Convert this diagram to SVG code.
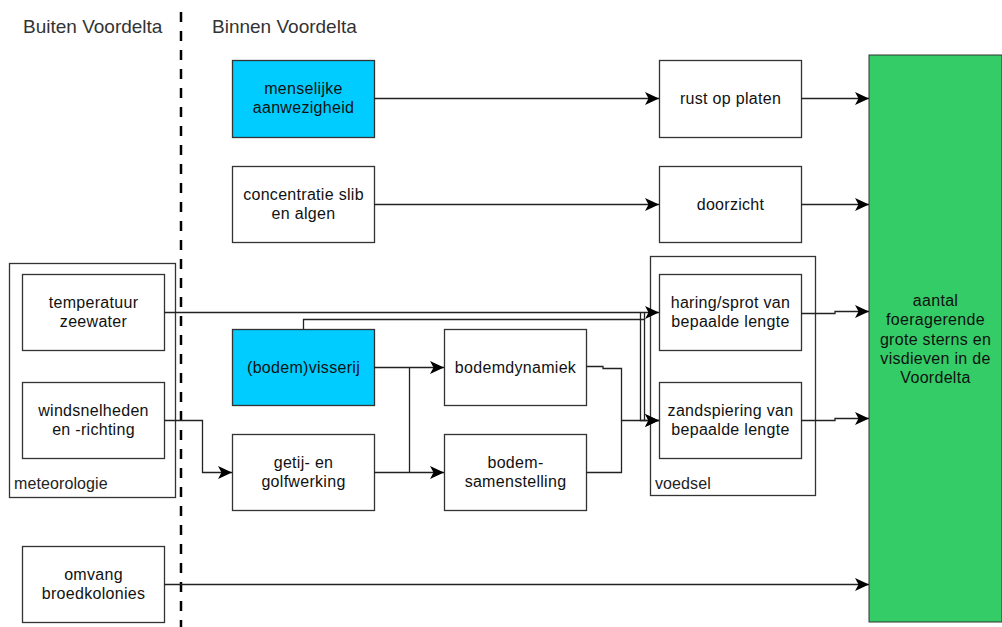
<svg xmlns="http://www.w3.org/2000/svg" width="1002" height="627" viewBox="0 0 1002 627">
<style>
.box{fill:#fff;stroke:#333;stroke-width:1.3}
.blue{fill:#00CCFF;stroke:#333;stroke-width:1.3}
.grp{fill:none;stroke:#333;stroke-width:1.3}
.t{font-family:"Liberation Sans",Arial,sans-serif;font-size:16px;fill:#111;text-anchor:middle;letter-spacing:0.3px}
.lbl{font-family:"Liberation Sans",Arial,sans-serif;font-size:16px;fill:#222;letter-spacing:0.1px}
.title{font-family:"Liberation Sans",Arial,sans-serif;font-size:19px;fill:#333}
.c{fill:none;stroke:#222;stroke-width:1.3}
.a{marker-end:url(#arr)}
</style>
<defs>
<marker id="arr" markerUnits="userSpaceOnUse" markerWidth="15" markerHeight="14" refX="14" refY="6.5" orient="auto">
<path d="M0,0 L14,6.5 L0,13 L3.5,6.5 Z" fill="#000"/>
</marker>
</defs>
<rect width="1002" height="627" fill="#fff"/>
<text class="title" x="23" y="33">Buiten Voordelta</text>
<text class="title" x="212" y="33">Binnen Voordelta</text>
<line x1="181" y1="12" x2="181" y2="627" stroke="#000" stroke-width="2.5" stroke-dasharray="10,9"/>

<g id="meteorologie"><rect class="grp" x="9.5" y="263.5" width="166" height="234"/><text class="lbl" x="14" y="489">meteorologie</text></g>
<g id="voedsel"><rect class="grp" x="650.5" y="256.5" width="165" height="239"/><text class="lbl" x="655" y="489">voedsel</text></g>

<g id="menselijke"><rect class="blue" x="232.5" y="60.5" width="142" height="77"/><text class="t" x="303.5" y="94">menselijke</text><text class="t" x="303.5" y="113">aanwezigheid</text></g>
<g id="concentratie"><rect class="box" x="232.5" y="166.5" width="142" height="76"/><text class="t" x="303.5" y="200">concentratie slib</text><text class="t" x="303.5" y="219">en algen</text></g>
<g id="temperatuur"><rect class="box" x="22.5" y="274.5" width="142" height="76"/><text class="t" x="93.5" y="308">temperatuur</text><text class="t" x="93.5" y="327">zeewater</text></g>
<g id="wind"><rect class="box" x="22.5" y="382.5" width="142" height="76"/><text class="t" x="93.5" y="416">windsnelheden</text><text class="t" x="93.5" y="435">en -richting</text></g>
<g id="visserij"><rect class="blue" x="232.5" y="329.5" width="142" height="76"/><text class="t" x="303.5" y="373">(bodem)visserij</text></g>
<g id="getij"><rect class="box" x="232.5" y="434.5" width="142" height="76"/><text class="t" x="303.5" y="468">getij- en</text><text class="t" x="303.5" y="487">golfwerking</text></g>
<g id="bodemdynamiek"><rect class="box" x="444.5" y="329.5" width="142" height="76"/><text class="t" x="515.5" y="373">bodemdynamiek</text></g>
<g id="bodemsamenstelling"><rect class="box" x="444.5" y="434.5" width="142" height="76"/><text class="t" x="515.5" y="468">bodem-</text><text class="t" x="515.5" y="487">samenstelling</text></g>
<g id="rust"><rect class="box" x="659.5" y="60.5" width="142" height="77"/><text class="t" x="730.5" y="104">rust op platen</text></g>
<g id="doorzicht"><rect class="box" x="659.5" y="166.5" width="142" height="76"/><text class="t" x="730.5" y="210">doorzicht</text></g>
<g id="haring"><rect class="box" x="659.5" y="274.5" width="142" height="76"/><text class="t" x="730.5" y="308">haring/sprot van</text><text class="t" x="730.5" y="327">bepaalde lengte</text></g>
<g id="zandspiering"><rect class="box" x="659.5" y="382.5" width="142" height="76"/><text class="t" x="730.5" y="416">zandspiering van</text><text class="t" x="730.5" y="435">bepaalde lengte</text></g>
<g id="omvang"><rect class="box" x="22.5" y="546.5" width="142" height="76"/><text class="t" x="93.5" y="580">omvang</text><text class="t" x="93.5" y="599">broedkolonies</text></g>
<g id="aantal"><rect x="869" y="55" width="133" height="567" fill="#33CC66" stroke="#333" stroke-width="1"/>
<text class="t" x="935.5" y="306">aantal</text><text class="t" x="935.5" y="325">foeragerende</text><text class="t" x="935.5" y="344.5">grote sterns en</text><text class="t" x="935.5" y="364">visdieven in de</text><text class="t" x="935.5" y="383">Voordelta</text></g>

<g id="connectors">
<path class="c a" d="M374,98.5 H659"/>
<path class="c a" d="M374,204.5 H659"/>
<path class="c a" d="M801,98.5 H869"/>
<path class="c a" d="M801,204.5 H869"/>
<path class="c a" d="M164,312.5 H659"/>
<path class="c a" d="M640.5,312.5 V420.5 H659"/>
<path class="c" d="M303.5,329 V319.5 H644.5 V312.5"/>
<path class="c" d="M644.5,319.5 V420.5"/>
<path class="c a" d="M164,420.5 H202.5 V472.5 H232"/>
<path class="c a" d="M374,367.5 H444"/>
<path class="c" d="M409.5,367.5 V472.5"/>
<path class="c a" d="M374,472.5 H444"/>
<path class="c a" d="M586,366.5 H603 V368.5 H621.5 V420.5 H659"/>
<path class="c" d="M586,472.5 H621.5 V420.5"/>
<path class="c a" d="M801,313.5 H835 V311.5 H869"/>
<path class="c a" d="M801,420.5 H835 V418.5 H869"/>
<path class="c a" d="M164,584.5 H869"/>
</g>
</svg>
